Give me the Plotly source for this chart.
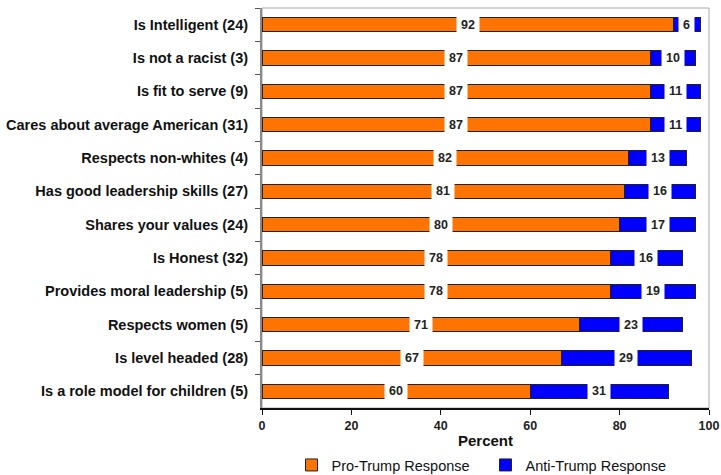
import plotly.graph_objects as go

categories = [
    "Is Intelligent (24)",
    "Is not a racist (3)",
    "Is fit to serve (9)",
    "Cares about average American (31)",
    "Respects non-whites (4)",
    "Has good leadership skills (27)",
    "Shares your values (24)",
    "Is Honest (32)",
    "Provides moral leadership (5)",
    "Respects women (5)",
    "Is level headed (28)",
    "Is a role model for children (5)",
]
pro_trump = [92, 87, 87, 87, 82, 81, 80, 78, 78, 71, 67, 60]
anti_trump = [6, 10, 11, 11, 13, 16, 17, 16, 19, 23, 29, 31]
x_ticks = [0, 20, 40, 60, 80, 100]

ORANGE = "#FF7300"
BLUE = "#0000FF"
FONT = "Liberation Sans, Arial, sans-serif"

fig = go.Figure()
fig.add_trace(go.Bar(
    y=categories, x=pro_trump, orientation="h", name="Pro-Trump Response",
    marker=dict(color=ORANGE, line=dict(color="#222222", width=1)), width=0.43,
))
fig.add_trace(go.Bar(
    y=categories, x=anti_trump, orientation="h", name="Anti-Trump Response",
    marker=dict(color=BLUE, line=dict(color="#222222", width=1)), width=0.43,
))

annotations = []
for c, p, a in zip(categories, pro_trump, anti_trump):
    annotations.append(dict(
        x=p / 2, y=c, xref="x", yref="y", text=str(p), showarrow=False,
        bgcolor="white", borderpad=4,
        font=dict(family=FONT, size=12.5, color="#222222", weight="bold"),
    ))
    annotations.append(dict(
        x=p + a / 2, y=c, xref="x", yref="y", text=str(a), showarrow=False,
        bgcolor="white", borderpad=4,
        font=dict(family=FONT, size=12.5, color="#222222", weight="bold"),
    ))

fig.update_layout(
    barmode="stack",
    width=721, height=475,
    margin=dict(l=262, r=12, t=8, b=67),
    plot_bgcolor="white", paper_bgcolor="white",
    font=dict(family=FONT, color="#111111"),
    annotations=annotations,
    bargap=0.57,
    legend=dict(
        orientation="h", x=0.066, xanchor="left",
        yref="container", y=0.021, yanchor="middle",
        font=dict(family=FONT, size=14.5, color="#111111"),
        traceorder="normal", itemwidth=30, entrywidth=149, entrywidthmode="pixels",
    ),
    shapes=[dict(type="rect", xref="paper", yref="paper", x0=0, x1=1, y0=0, y1=1,
                 line=dict(color="#AAAAAA", width=1), layer="below")],
)
fig.update_yaxes(
    autorange="reversed", tickson="boundaries", ticks="outside", ticklen=5,
    tickcolor="#555555", showline=True, linecolor="#888888", linewidth=2,
    tickfont=dict(family=FONT, size=14.5, color="#111111", weight="bold"),
    ticklabelstandoff=9, showgrid=False, automargin=False,
)
fig.update_xaxes(
    range=[0, 100], tickvals=x_ticks, ticks="outside", ticklen=5,
    tickcolor="#111111", showline=True, linecolor="#111111", linewidth=1.5,
    tickfont=dict(family=FONT, size=12.5, color="#222222", weight="bold"),
    showgrid=False, zeroline=False, automargin=False,
    title=dict(text="Percent", standoff=17,
               font=dict(family=FONT, size=15, color="#111111", weight="bold")),
)

fig.write_html(
    "out.html",
    config={"displayModeBar": False},
    post_script="document.body.style.margin='0';document.body.style.padding='0';",
)
